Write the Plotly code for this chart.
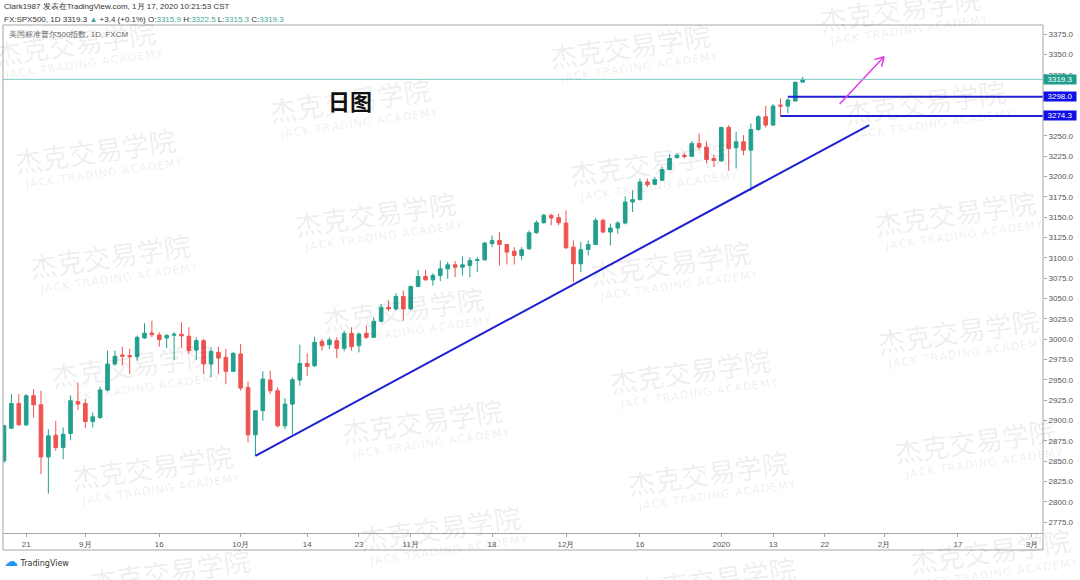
import math
import numpy as np
import pandas as pd
import plotly.graph_objects as go

# ---------------- data ----------------
holidays = ["2019-12-25", "2020-01-01"]
dates = [d.strftime("%Y-%m-%d") for d in pd.bdate_range("2019-08-16", "2020-01-17")
         if d.strftime("%Y-%m-%d") not in holidays]

opens = [2850.4, 2890.6, 2921.0, 2894.7, 2930.5, 2919.4, 2855.3, 2882.0, 2866.8, 2884.1,
         2923.5, 2921.0, 2898.8, 2903.8, 2937.5, 2969.5, 2980.6, 2979.8, 2978.5, 3001.5,
         3007.7, 3005.2, 3001.5, 3004.8, 3006.0, 3003.6, 2986.7, 2998.2, 2969.5, 2983.9,
         2977.7, 2960.5, 2981.8, 2940.7, 2882.4, 2912.0, 2949.8, 2936.6, 2893.5, 2920.2,
         2949.7, 2970.2, 2967.3, 2997.3, 2993.2, 2998.1, 2988.7, 3007.2, 2992.0, 3007.2,
         3002.3, 3022.0, 3039.2, 3037.2, 3052.4, 3037.2, 3064.7, 3077.0, 3072.9, 3078.2,
         3086.4, 3091.4, 3088.5, 3090.6, 3096.7, 3097.5, 3117.3, 3121.4, 3116.4, 3108.2,
         3102.9, 3111.1, 3130.8, 3143.1, 3152.2, 3149.3, 3142.7, 3113.1, 3092.6, 3110.3,
         3116.4, 3146.0, 3131.6, 3136.6, 3142.7, 3168.6, 3171.5, 3193.2, 3190.4, 3195.3,
         3208.4, 3223.2, 3226.1, 3224.9, 3240.5, 3236.0, 3222.0, 3219.1, 3260.2, 3235.2,
         3242.6, 3232.3, 3257.7, 3273.4, 3263.1, 3287.7, 3286.5, 3292.7, 3315.9]

highs = [2895.0, 2932.5, 2932.5, 2932.5, 2938.7, 2936.6, 2889.4, 2899.7, 2891.5, 2930.5,
         2946.9, 2926.4, 2909.9, 2941.6, 2985.9, 2985.9, 2990.8, 2988.0, 3004.4, 3019.6,
         3022.9, 3008.5, 3006.5, 3008.5, 3020.8, 3014.7, 3002.3, 3000.3, 2990.0, 2990.8,
         2988.0, 2984.0, 2994.1, 2948.1, 2912.0, 2960.5, 2961.3, 2940.7, 2927.6, 2953.1,
         2993.2, 2982.5, 3003.1, 3000.2, 3002.3, 3002.3, 3010.5, 3014.6, 3008.4, 3016.6,
         3026.9, 3043.3, 3047.4, 3056.5, 3059.8, 3065.9, 3085.2, 3085.2, 3081.1, 3096.7,
         3094.7, 3095.9, 3101.6, 3100.8, 3100.8, 3119.3, 3127.5, 3131.6, 3117.0, 3113.1,
         3113.1, 3133.7, 3146.0, 3154.2, 3154.2, 3154.2, 3158.3, 3121.4, 3119.3, 3121.4,
         3149.3, 3148.1, 3141.9, 3145.2, 3175.6, 3183.0, 3197.3, 3197.3, 3199.4, 3211.7,
         3227.3, 3229.0, 3229.0, 3243.5, 3252.8, 3243.0, 3227.0, 3261.0, 3263.1, 3254.9,
         3250.8, 3265.1, 3275.4, 3286.5, 3289.0, 3295.9, 3295.9, 3316.5, 3322.5]

lows = [2848.0, 2889.4, 2893.5, 2893.0, 2903.8, 2834.0, 2810.2, 2862.7, 2852.4, 2875.9,
        2912.8, 2890.6, 2891.5, 2902.0, 2935.8, 2967.4, 2967.4, 2957.2, 2973.6, 3000.3,
        3002.3, 2990.8, 2989.2, 2974.4, 2989.2, 2981.8, 2974.4, 2957.2, 2953.1, 2957.2,
        2944.8, 2960.0, 2936.6, 2873.0, 2856.5, 2899.7, 2932.5, 2891.5, 2889.4, 2883.0,
        2942.7, 2955.0, 2966.0, 2985.8, 2987.9, 2976.8, 2985.0, 2985.8, 2983.8, 3000.2,
        3001.4, 3020.7, 3034.3, 3035.1, 3022.8, 3035.9, 3063.9, 3072.0, 3065.9, 3071.3,
        3074.1, 3076.2, 3078.2, 3076.2, 3082.3, 3096.7, 3113.1, 3090.6, 3091.8, 3091.8,
        3097.5, 3109.9, 3129.6, 3141.9, 3139.9, 3139.9, 3111.1, 3070.0, 3082.4, 3102.9,
        3116.4, 3130.4, 3115.2, 3129.6, 3141.1, 3156.3, 3170.7, 3187.1, 3189.1, 3194.5,
        3207.6, 3222.0, 3222.0, 3224.0, 3233.0, 3216.0, 3211.8, 3217.9, 3206.8, 3209.7,
        3226.1, 3182.0, 3256.1, 3260.2, 3261.9, 3274.2, 3277.5, 3291.8, 3315.3]

closes = [2893.5, 2921.0, 2894.7, 2930.5, 2919.4, 2855.3, 2881.2, 2866.8, 2883.2, 2924.3,
          2920.2, 2898.8, 2904.6, 2937.5, 2969.5, 2978.9, 2979.0, 2978.5, 3002.3, 3007.3,
          3005.6, 2999.5, 3004.4, 3006.0, 3004.0, 2985.9, 2998.2, 2969.5, 2985.1, 2976.9,
          2960.5, 2982.6, 2939.9, 2882.4, 2912.0, 2951.0, 2936.6, 2893.5, 2920.2, 2950.2,
          2970.2, 2966.5, 2996.1, 2992.0, 2999.0, 2988.7, 3007.2, 2990.8, 3006.4, 3002.3,
          3022.0, 3039.2, 3037.2, 3052.4, 3037.2, 3064.7, 3077.0, 3072.9, 3078.2, 3086.4,
          3091.4, 3088.5, 3091.4, 3096.7, 3097.5, 3118.1, 3121.4, 3116.4, 3107.0, 3102.9,
          3109.9, 3130.8, 3143.1, 3152.2, 3148.9, 3143.1, 3112.3, 3092.6, 3109.9, 3116.4,
          3146.0, 3131.6, 3136.6, 3142.7, 3168.6, 3171.5, 3193.2, 3189.9, 3196.1, 3208.4,
          3222.0, 3226.1, 3224.9, 3240.5, 3236.0, 3220.8, 3219.5, 3260.2, 3234.3, 3242.6,
          3232.3, 3257.7, 3273.4, 3263.1, 3286.5, 3286.5, 3293.9, 3315.7, 3319.3]

tick_dates = ["2019-08-21", "2019-09-02", "2019-09-16", "2019-10-01", "2019-10-14",
              "2019-10-23", "2019-11-01", "2019-11-18", "2019-12-02", "2019-12-16",
              "2020-01-02", "2020-01-13", "2020-01-22", "2020-02-03", "2020-02-17",
              "2020-03-02"]
tick_labels = ["21", "9月", "16", "10月", "14", "23", "11月", "18", "12月", "16",
               "2020", "13", "22", "2月", "17", "3月"]

price_ticks = list(range(2775, 3376, 25))

last_price = 3319.3
level_values = [3298.0, 3274.3]
level_start_dates = ["2020-01-15", "2020-01-14"]

trend_dates = ["2019-10-03", "2020-01-30"]
trend_prices = [2856.5, 3263.2]

arrow_dates = ["2020-01-24", "2020-02-03"]
arrow_prices = [3289.0, 3347.1]

# ---------------- helpers ----------------
def pos(d):
    if d in dates:
        return dates.index(d)
    return len(dates) - 1 + int(np.busday_count(dates[-1], d))

W, H = 1080, 580
ML, MR, MT, MB = 3, 37, 25, 47
PW, PH = W - ML - MR, H - MT - MB
X_RANGE = [-0.135, 140.5]
Y_RANGE = [2761.8, 3386.1]

def px(x):
    return (x - ML) / PW

def py(y):
    return (H - MB - y) / PH

UP = "#22a08f"
DOWN = "#ef5350"
BLUE = "#2020d2"
BOXBLUE = "#1010e6"
MAGENTA = "#e03ae6"
GRID = "#a6a6a6"
TXT = "#555555"

xs = list(range(len(dates)))

fig = go.Figure()

fig.add_trace(go.Candlestick(
    x=xs, open=opens, high=highs, low=lows, close=closes,
    increasing=dict(line=dict(color=UP, width=1), fillcolor=UP),
    decreasing=dict(line=dict(color=DOWN, width=1), fillcolor=DOWN),
    whiskerwidth=0, showlegend=False, hoverinfo="skip"))

# trend line
fig.add_trace(go.Scatter(x=[pos(d) for d in trend_dates], y=trend_prices, mode="lines",
                         line=dict(color=BLUE, width=2), showlegend=False, hoverinfo="skip"))

# horizontal levels
for v, d in zip(level_values, level_start_dates):
    fig.add_trace(go.Scatter(x=[pos(d), X_RANGE[1]], y=[v, v], mode="lines",
                             line=dict(color=BLUE, width=2), showlegend=False,
                             hoverinfo="skip", cliponaxis=False))

# magenta arrow
ax0, ax1 = pos(arrow_dates[0]), pos(arrow_dates[1])
ay0, ay1 = arrow_prices
sx = PW / (X_RANGE[1] - X_RANGE[0])
sy = PH / (Y_RANGE[1] - Y_RANGE[0])
theta = math.atan2((ay1 - ay0) * sy, (ax1 - ax0) * sx)
head_len = 10
arms = []
for da in (math.radians(150), math.radians(-150)):
    a = theta + da
    arms.append((ax1 + head_len * math.cos(a) / sx, ay1 + head_len * math.sin(a) / sy))
fig.add_trace(go.Scatter(x=[ax0, ax1, None, arms[0][0], ax1, arms[1][0]],
                         y=[ay0, ay1, None, arms[0][1], ay1, arms[1][1]],
                         mode="lines", line=dict(color=MAGENTA, width=1.5),
                         showlegend=False, hoverinfo="skip"))

shapes = [
    # last price line
    dict(type="line", xref="paper", yref="y", x0=0, x1=1, y0=last_price, y1=last_price,
         line=dict(color="#7fcdc4", width=1)),
    # frame
    dict(type="rect", xref="paper", yref="paper", x0=0, x1=1, y0=py(550), y1=1,
         line=dict(color=GRID, width=1)),
]

annotations = []

# watermarks
wm_centers = [(900, 8), (75, 42), (630, 45), (350, 100), (925, 102), (95, 150), (650, 163),
              (375, 213), (955, 212), (110, 255), (670, 262), (403, 308), (958, 330),
              (132, 365), (690, 370), (422, 420), (975, 440), (152, 466), (708, 472),
              (440, 527), (990, 550), (170, 570), (715, 578)]
jack = "\u200a".join("JACK TRADING ACADEMY")
for (cx, cy) in wm_centers:
    annotations.append(dict(x=px(cx), y=py(cy), xref="paper", yref="paper",
                            text="杰克交易学院", showarrow=False, textangle=-8,
                            font=dict(family="Noto Sans CJK SC", size=27,
                                      color="rgba(0,0,0,0.085)"),
                            xanchor="center", yanchor="middle"))
    annotations.append(dict(x=px(cx + 8), y=py(cy + 23), xref="paper", yref="paper",
                            text=jack, showarrow=False, textangle=-8,
                            font=dict(family="DejaVu Sans", size=11,
                                      color="rgba(0,0,0,0.085)"),
                            xanchor="center", yanchor="middle"))

# 日图 label
annotations.append(dict(x=px(350), y=py(100), xref="paper", yref="paper", text="<b>日图</b>",
                        showarrow=False, font=dict(family="Noto Sans CJK SC", size=22,
                                                   color="#111111"),
                        xanchor="center", yanchor="middle"))

# header text
teal = "#3fa89c"
annotations.append(dict(x=px(2), y=py(6), xref="paper", yref="paper",
                        text="Clark1987 发表在TradingView.com, 1月 17, 2020 10:21:53 CST",
                        showarrow=False, xanchor="left", yanchor="middle",
                        font=dict(family="Liberation Sans", size=8, color="#333333")))
line2 = ("FX:SPX500, 1D 3319.3 <span style='color:%s'>▲</span> +3.4 (+0.1%%) "
         "O:<span style='color:%s'>3315.9</span> H:<span style='color:%s'>3322.5</span> "
         "L:<span style='color:%s'>3315.3</span> C:<span style='color:%s'>3319.3</span>"
         % (teal, teal, teal, teal, teal))
annotations.append(dict(x=px(2), y=py(19), xref="paper", yref="paper", text=line2,
                        showarrow=False, xanchor="left", yanchor="middle",
                        font=dict(family="Liberation Sans", size=8, color="#333333")))
annotations.append(dict(x=px(7), y=py(35), xref="paper", yref="paper",
                        text="美国标准普尔500指数, 1D, FXCM",
                        showarrow=False, xanchor="left", yanchor="middle",
                        font=dict(family="Liberation Sans", size=8, color="#666666")))

# price labels on the axis
for v, col in [(last_price, "#1f9e8e"), (level_values[0], BOXBLUE), (level_values[1], BOXBLUE)]:
    annotations.append(dict(x=1, y=v, xref="paper", yref="y", text="%.1f" % v,
                            showarrow=False, xanchor="left", yanchor="middle",
                            bgcolor=col, width=32, height=9, borderpad=0,
                            font=dict(family="Liberation Sans", size=8, color="white")))

# TradingView logo
annotations.append(dict(x=px(2), y=py(561), xref="paper", yref="paper",
                        text="<span style='color:#2196f3;font-size:14px'>☁</span> TradingView",
                        showarrow=False, xanchor="left", yanchor="middle",
                        font=dict(family="DejaVu Sans", size=8, color="#333333")))

fig.update_layout(
    width=W, height=H,
    margin=dict(l=ML, r=MR, t=MT, b=MB, pad=0),
    paper_bgcolor="white", plot_bgcolor="white",
    boxgap=0.3,
    shapes=shapes, annotations=annotations,
    xaxis=dict(range=X_RANGE, showgrid=False, zeroline=False, rangeslider=dict(visible=False),
               tickmode="array", tickvals=[pos(d) for d in tick_dates], ticktext=tick_labels,
               ticks="outside", ticklen=3, tickcolor=GRID, showline=True, linecolor=GRID,
               linewidth=1, tickfont=dict(family="Liberation Sans", size=8, color=TXT),
               automargin=False, fixedrange=True),
    yaxis=dict(range=Y_RANGE, side="right", showgrid=False, zeroline=False,
               tickmode="array", tickvals=price_ticks,
               ticktext=["%.1f" % t for t in price_ticks],
               ticks="outside", ticklen=3, tickcolor=GRID, showline=False,
               tickfont=dict(family="Liberation Sans", size=8, color=TXT),
               automargin=False, fixedrange=True),
)

fig.write_html("out.html", config={"displayModeBar": False},
               post_script="document.body.style.margin='0px';document.body.style.overflow='hidden';")
